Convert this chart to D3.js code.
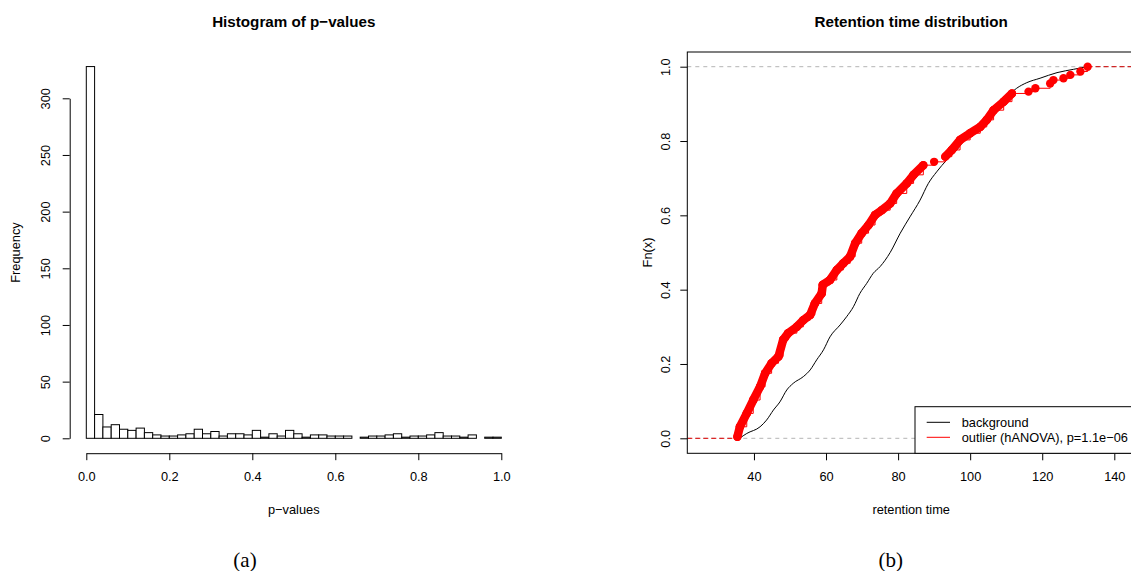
<!DOCTYPE html>
<html><head><meta charset="utf-8">
<script src="https://cdn.jsdelivr.net/npm/d3@7"></script>
<style>
body{margin:0;background:#fff}
svg{display:block}
text{fill:#000}
</style>
</head><body>
<svg id="c" width="1131" height="571"></svg>
<script>
// ---------- data: histogram of p-values ----------
const histBinWidth = 0.02;
const histCounts = [328, 21, 10, 12, 8, 7, 9, 5, 3, 2, 2, 3, 4, 8, 4, 6, 2, 4, 4, 3,
                    7, 1, 4, 2, 7, 4, 1, 3, 3, 2, 2, 2, 0, 1, 2, 2, 3, 4, 1, 2,
                    2, 3, 5, 2, 2, 1, 3, 0, 1, 1];
const histXTicks = [0, 0.2, 0.4, 0.6, 0.8, 1.0];
const histYTicks = [0, 50, 100, 150, 200, 250, 300];

// ---------- data: retention time ECDFs ----------
const bgX = [36.0, 38.0, 41.7, 43.5, 45.4, 47.2, 49.1, 50.9, 53.7, 55.6, 57.4, 59.3, 61.1, 63.9, 65.7, 67.6, 69.4, 71.3, 73.1, 75.0,
             77.8, 80.6, 83.3, 86.1, 88.4, 90.7, 93.5, 96.3, 99.1, 101.9, 105.6, 109.3, 112.9, 115.7, 119.4, 124.1, 128.7, 132.4];
const bgF = [0.0, 0.013, 0.031, 0.049, 0.076, 0.098, 0.130, 0.148, 0.166, 0.184, 0.211, 0.238, 0.273, 0.305, 0.327, 0.354, 0.390, 0.417, 0.444, 0.462,
             0.500, 0.552, 0.596, 0.641, 0.686, 0.717, 0.749, 0.776, 0.812, 0.838, 0.875, 0.910, 0.942, 0.957, 0.969, 0.984, 0.993, 1.0];
const outX = [35.4, 36.1, 38.0, 39.8, 41.7, 43.1, 44.9, 46.8, 48.1, 49.5, 51.9, 53.7, 55.6, 56.9, 58.8, 59.1, 61.1, 63.0, 64.8, 66.7,
              68.1, 69.9, 71.8, 73.6, 75.5, 77.8, 79.6, 82.4, 84.3, 87.0, 90.0, 93.1, 94.9, 97.2, 100.0, 102.8, 104.6, 106.5, 109.3, 111.6,
              116.2, 118.1, 122.2, 123.1, 125.9, 127.8, 130.6, 132.6];
const outF = [0.004, 0.031, 0.067, 0.103, 0.139, 0.175, 0.202, 0.220, 0.265, 0.283, 0.300, 0.318, 0.332, 0.363, 0.390, 0.413, 0.426, 0.453, 0.471, 0.489,
              0.525, 0.552, 0.574, 0.601, 0.614, 0.632, 0.659, 0.686, 0.709, 0.735, 0.744, 0.758, 0.776, 0.803, 0.821, 0.838, 0.857, 0.883, 0.906, 0.928,
              0.933, 0.942, 0.955, 0.964, 0.969, 0.978, 0.987, 1.0];
const rtXTicks = [40, 60, 80, 100, 120, 140];
const rtYTicks = [0, 0.2, 0.4, 0.6, 0.8, 1.0];
const legendLabels = ["background", "outlier (hANOVA), p=1.1e\u221206"];
const legendColors = ["#000", "#ff0000"];

const svg = d3.select("#c");
const FS = 12.8;
const SANS = '"Liberation Sans",Arial,Helvetica,sans-serif';
const SERIF = '"Liberation Serif","Times New Roman",Times,serif';

// ================= LEFT: histogram =================
const hx = d3.scaleLinear().domain([0, 1]).range([86.3, 501.3]);
const hy = d3.scaleLinear().domain([0, 300]).range([438.3, 98.3]);
const bins = histCounts.map((c, i) => ({x0: i * histBinWidth, x1: (i + 1) * histBinWidth, c}));

const gh = svg.append("g");
gh.selectAll("rect.bar").data(bins).join("rect")
  .attr("x", d => hx(d.x0)).attr("width", d => hx(d.x1) - hx(d.x0))
  .attr("y", d => hy(d.c)).attr("height", d => hy(0) - hy(d.c))
  .attr("fill", "#fff").attr("stroke", "#000").attr("stroke-width", 1);

const hxAxis = gh.append("g").attr("transform", "translate(0,453.2)")
  .call(d3.axisBottom(hx).tickValues(histXTicks).tickFormat(d3.format(".1f")).tickSize(7).tickSizeOuter(0).tickPadding(12));
const hyAxis = gh.append("g").attr("transform", "translate(69.7,0)")
  .call(d3.axisLeft(hy).tickValues(histYTicks).tickSize(7).tickSizeOuter(0));
hyAxis.selectAll(".tick text").attr("x", null).attr("dy", null)
  .attr("text-anchor", "middle").attr("transform", "translate(-20,0) rotate(-90)");

gh.append("text").attr("x", 293.8).attr("y", 26.5).attr("text-anchor", "middle")
  .style("font-family", SANS).attr("font-weight", "bold").attr("font-size", 15.2).text("Histogram of p\u2212values");
gh.append("text").attr("x", 293.8).attr("y", 513.5).attr("text-anchor", "middle")
  .style("font-family", SANS).attr("font-size", FS).text("p\u2212values");
gh.append("text").attr("transform", "translate(19.5,252.5) rotate(-90)").attr("text-anchor", "middle")
  .style("font-family", SANS).attr("font-size", FS).text("Frequency");

// ================= RIGHT: ECDF =================
const rx = d3.scaleLinear().domain([21.5, 145.8]).range([687.3, 1135.2]);
const ry = d3.scaleLinear().domain([0, 1]).range([438.3, 66.7]);
const plotTop = 52, plotBottom = 453.3;
const gr = svg.append("g");
gr.append("clipPath").attr("id", "clipR").append("rect")
  .attr("x", rx.range()[0]).attr("y", plotTop).attr("width", rx.range()[1] - rx.range()[0]).attr("height", plotBottom - plotTop);
const plot = gr.append("g").attr("clip-path", "url(#clipR)");

plot.selectAll("line.ref").data([0, 1]).join("line")
  .attr("x1", rx.range()[0]).attr("x2", rx.range()[1])
  .attr("y1", d => ry(d)).attr("y2", d => ry(d))
  .attr("stroke", "#b4b4b4").attr("stroke-width", 1).attr("stroke-dasharray", "4,4");

const bgPts = bgX.map((x, i) => [x, bgF[i]]);
plot.append("path").datum(bgPts)
  .attr("d", d3.line().x(d => rx(d[0])).y(d => ry(d[1])).curve(d3.curveMonotoneX))
  .attr("fill", "none").attr("stroke", "#000").attr("stroke-width", 1);

const outPts = outX.map((x, i) => [x, outF[i]]);
plot.append("line").attr("x1", rx.range()[0]).attr("x2", rx(outX[0]))
  .attr("y1", ry(0)).attr("y2", ry(0)).attr("stroke", "#e00000").attr("stroke-width", 1).attr("stroke-dasharray", "5,3");
plot.append("line").attr("x1", rx(outX[outX.length - 1])).attr("x2", rx.range()[1])
  .attr("y1", ry(1)).attr("y2", ry(1)).attr("stroke", "#d00000").attr("stroke-width", 1).attr("stroke-dasharray", "5,3");
plot.append("path").datum(outPts)
  .attr("d", d3.line().x(d => rx(d[0])).y(d => ry(d[1])).curve(d3.curveStepAfter))
  .attr("fill", "none").attr("stroke", "red").attr("stroke-width", 1);
// overlapping dots in the dense part rendered as a continuous band
const pairs = d3.pairs(outPts).filter(([a, b]) => b[0] - a[0] <= 2.85 && b[0] < 113);
plot.selectAll("line.band").data(pairs).join("line")
  .attr("x1", d => rx(d[0][0])).attr("y1", d => ry(d[0][1]))
  .attr("x2", d => rx(d[1][0])).attr("y2", d => ry(d[1][1]))
  .attr("stroke", "red").attr("stroke-width", 8.5).attr("stroke-linecap", "round");
plot.selectAll("circle.pt").data(outPts).join("circle")
  .attr("cx", d => rx(d[0])).attr("cy", d => ry(d[1])).attr("r", 4.2).attr("fill", "red");

gr.append("rect").attr("x", rx.range()[0]).attr("y", plotTop)
  .attr("width", rx.range()[1] - rx.range()[0]).attr("height", plotBottom - plotTop)
  .attr("fill", "none").attr("stroke", "#000").attr("stroke-width", 1);

const rxAxis = gr.append("g").attr("transform", `translate(0,${plotBottom})`)
  .call(d3.axisBottom(rx).tickValues(rtXTicks).tickSize(7).tickPadding(12));
rxAxis.select(".domain").remove();
const ryAxis = gr.append("g").attr("transform", `translate(${rx.range()[0]},0)`)
  .call(d3.axisLeft(ry).tickValues(rtYTicks).tickFormat(d3.format(".1f")).tickSize(7));
ryAxis.select(".domain").remove();
ryAxis.selectAll(".tick text").attr("x", null).attr("dy", null)
  .attr("text-anchor", "middle").attr("transform", "translate(-17.5,0) rotate(-90)");

gr.append("text").attr("x", 911.2).attr("y", 26.5).attr("text-anchor", "middle")
  .style("font-family", SANS).attr("font-weight", "bold").attr("font-size", 15.2).text("Retention time distribution");
gr.append("text").attr("x", 911.2).attr("y", 513.5).attr("text-anchor", "middle")
  .style("font-family", SANS).attr("font-size", FS).text("retention time");
gr.append("text").attr("transform", "translate(652,252.5) rotate(-90)").attr("text-anchor", "middle")
  .style("font-family", SANS).attr("font-size", FS).text("Fn(x)");

const lg = gr.append("g");
lg.append("rect").attr("x", 915).attr("y", 406.7).attr("width", 260).attr("height", plotBottom - 406.7)
  .attr("fill", "#fff").attr("stroke", "#000").attr("stroke-width", 1);
const le = lg.selectAll("g.le").data(legendLabels).join("g")
  .attr("transform", (d, i) => `translate(0,${422.3 + i * 15})`);
le.append("line").attr("x1", 926.7).attr("x2", 950).attr("y1", 0).attr("y2", 0)
  .attr("stroke", (d, i) => legendColors[i]).attr("stroke-width", 1);
le.append("text").attr("x", 961.7).attr("y", 4.5).style("font-family", SANS).attr("font-size", FS).text(d => d);

svg.selectAll(".tick line").attr("stroke", "#000");
svg.selectAll(".domain").attr("stroke", "#000");
svg.selectAll(".tick text").attr("font-size", FS).style("font-family", SANS).attr("fill", "#000");

svg.append("text").attr("x", 245).attr("y", 567).attr("text-anchor", "middle")
  .style("font-family", SERIF).attr("font-size", 21).text("(a)");
svg.append("text").attr("x", 890.7).attr("y", 567).attr("text-anchor", "middle")
  .style("font-family", SERIF).attr("font-size", 21).text("(b)");
</script>
</body></html>
